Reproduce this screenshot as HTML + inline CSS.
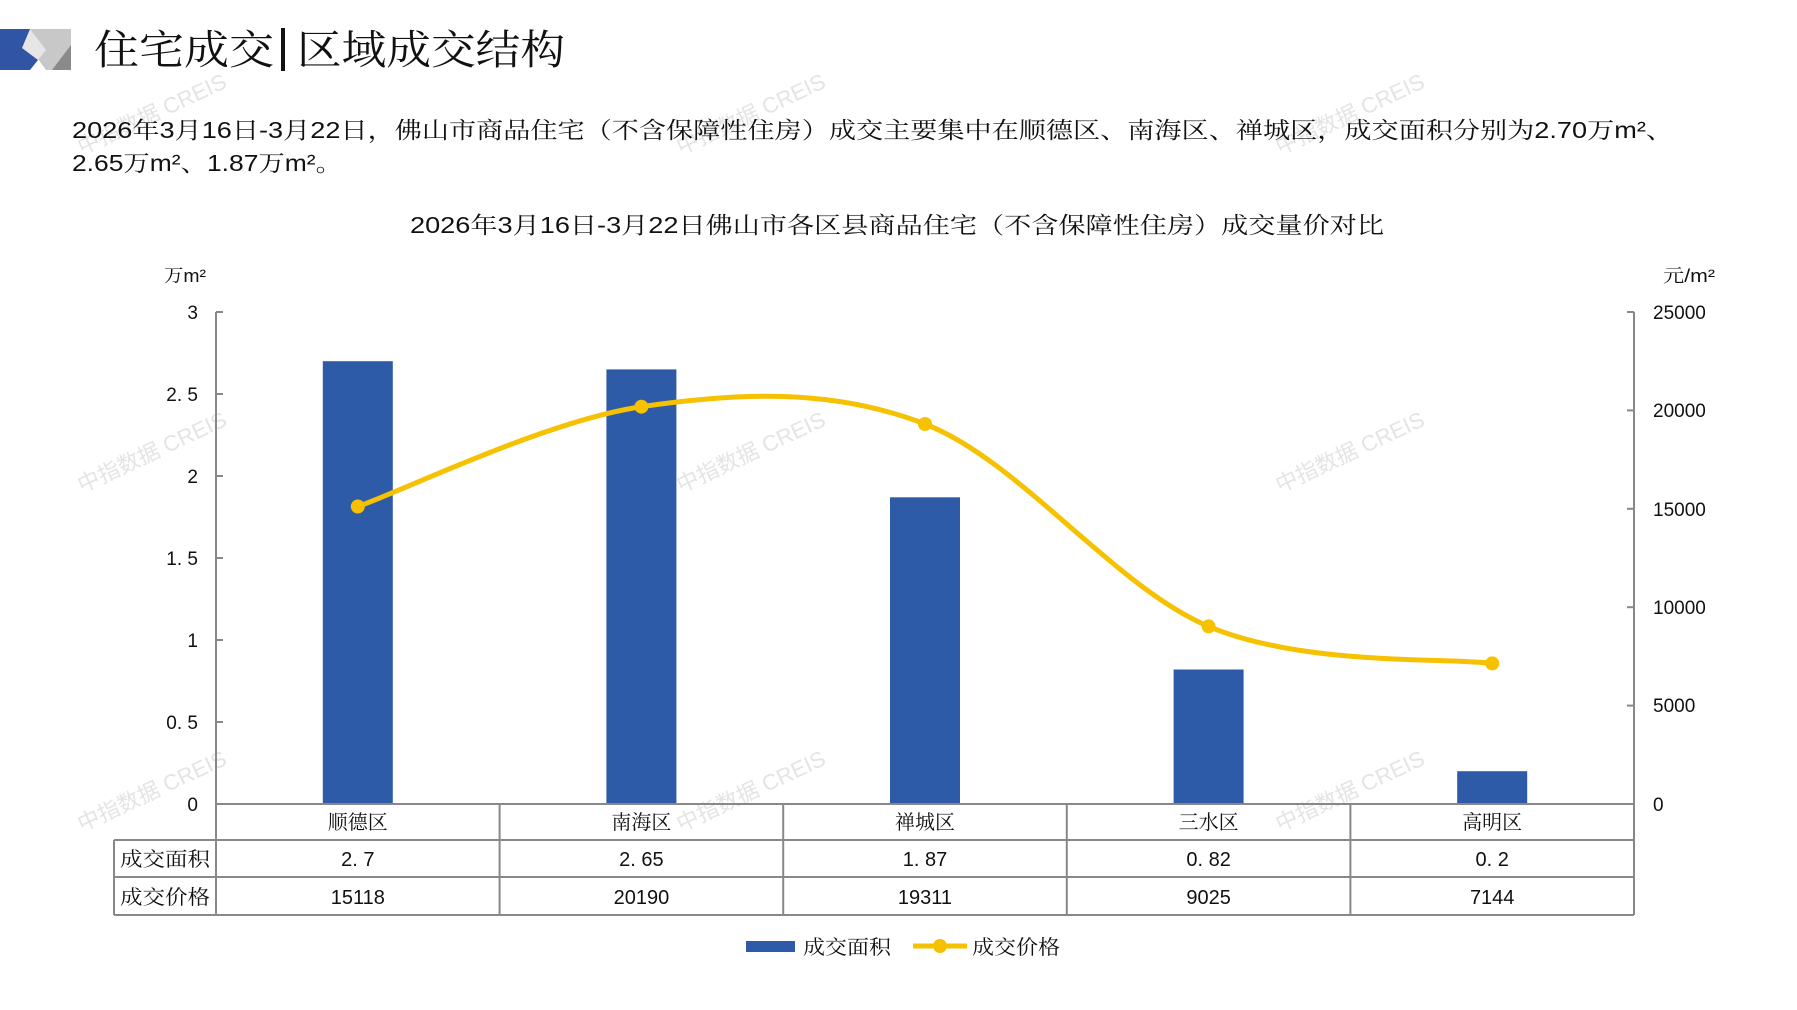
<!DOCTYPE html>
<html><head><meta charset="utf-8"><style>
html,body{margin:0;padding:0;background:#fff;}
svg{display:block;}
text{font-family:"Liberation Sans","Noto Serif CJK SC",serif;fill:#111;}
text.wm{fill:#e4e4e4;font-size:22px;font-family:"Liberation Sans","Noto Sans CJK SC",sans-serif;}
</style></head><body>
<svg width="1797" height="1010" viewBox="0 0 1797 1010" xmlns="http://www.w3.org/2000/svg">
<!-- watermarks -->
<g>
<text class="wm" transform="translate(82,155) rotate(-25)">中指数据 CREIS</text>
<text class="wm" transform="translate(681,155) rotate(-25)">中指数据 CREIS</text>
<text class="wm" transform="translate(1280,155) rotate(-25)">中指数据 CREIS</text>
<text class="wm" transform="translate(82,493) rotate(-25)">中指数据 CREIS</text>
<text class="wm" transform="translate(681,493) rotate(-25)">中指数据 CREIS</text>
<text class="wm" transform="translate(1280,493) rotate(-25)">中指数据 CREIS</text>
<text class="wm" transform="translate(82,832) rotate(-25)">中指数据 CREIS</text>
<text class="wm" transform="translate(681,832) rotate(-25)">中指数据 CREIS</text>
<text class="wm" transform="translate(1280,832) rotate(-25)">中指数据 CREIS</text>
</g>
<!-- logo -->
<polygon points="0,29 30,29 46,50 30,70 0,70" fill="#2f55a4"/>
<polygon points="30,29 71,29 71,50 62,70 46,70 30,48" fill="#c8c8c8"/>
<polygon points="71,45 71,70 52,70" fill="#8a8a8a"/>
<polygon points="30,29 46,50 38,60 22,48" fill="#e6e6e6"/>
<text x="94" y="64" font-size="41" textLength="180" lengthAdjust="spacingAndGlyphs">住宅成交</text>
<rect x="281" y="28" width="4" height="43" fill="#111"/>
<text x="297" y="64" font-size="41" textLength="268" lengthAdjust="spacingAndGlyphs">区域成交结构</text>
<!-- paragraph -->
<text x="72" y="138" font-size="23" fill="#222" textLength="1601" lengthAdjust="spacingAndGlyphs">2026年3月16日-3月22日，佛山市商品住宅（不含保障性住房）成交主要集中在顺德区、南海区、禅城区，成交面积分别为2.70万m²、</text>
<text x="72" y="171" font-size="23" fill="#222" textLength="270" lengthAdjust="spacingAndGlyphs">2.65万m²、1.87万m²。</text>
<!-- chart title -->
<text x="410" y="233" font-size="23" fill="#222" textLength="974" lengthAdjust="spacingAndGlyphs">2026年3月16日-3月22日佛山市各区县商品住宅（不含保障性住房）成交量价对比</text>
<text x="164" y="282" font-size="18" fill="#222" textLength="42" lengthAdjust="spacingAndGlyphs">万m²</text>
<text x="1663" y="282" font-size="18" fill="#222" textLength="52" lengthAdjust="spacingAndGlyphs">元/m²</text>
<!-- axes -->
<g stroke="#888" stroke-width="2" fill="none">
<line x1="216" y1="312" x2="216" y2="804"/>
<line x1="1634" y1="312" x2="1634" y2="804"/>
<line x1="216" y1="312" x2="223" y2="312"/><line x1="216" y1="394" x2="223" y2="394"/>
<line x1="216" y1="476" x2="223" y2="476"/><line x1="216" y1="558" x2="223" y2="558"/>
<line x1="216" y1="640" x2="223" y2="640"/><line x1="216" y1="722" x2="223" y2="722"/>
<line x1="1627" y1="312" x2="1634" y2="312"/><line x1="1627" y1="410.4" x2="1634" y2="410.4"/>
<line x1="1627" y1="508.8" x2="1634" y2="508.8"/><line x1="1627" y1="607.2" x2="1634" y2="607.2"/>
<line x1="1627" y1="705.6" x2="1634" y2="705.6"/>
</g>
<g font-size="19" text-anchor="end">
<text x="198" y="319">3</text><text x="198" y="401">2. 5</text><text x="198" y="483">2</text>
<text x="198" y="565">1. 5</text><text x="198" y="647">1</text><text x="198" y="729">0. 5</text><text x="198" y="811">0</text>
</g>
<g font-size="19">
<text x="1653" y="319">25000</text><text x="1653" y="417">20000</text><text x="1653" y="516">15000</text>
<text x="1653" y="614">10000</text><text x="1653" y="712">5000</text><text x="1653" y="811">0</text>
</g>
<!-- bars -->
<g fill="#2e5ba7">
<rect x="322.8" y="361.2" width="70" height="442.8"/>
<rect x="606.4" y="369.4" width="70" height="434.6"/>
<rect x="890" y="497.3" width="70" height="306.7"/>
<rect x="1173.6" y="669.5" width="70" height="134.5"/>
<rect x="1457.2" y="771.2" width="70" height="32.8"/>
</g>
<!-- line -->
<path d="M357.8,506.5 C405,490 547,420.5 641.4,406.7 C736,393 830.5,387.4 925,424 C1019.5,460.6 1114,586.5 1208.6,626.4 C1303,666.3 1445,657.2 1492.2,663.4" stroke="#f5c100" stroke-width="5" fill="none"/>
<g fill="#f5c100">
<circle cx="357.8" cy="506.5" r="7"/><circle cx="641.4" cy="406.7" r="7"/><circle cx="925" cy="424" r="7"/>
<circle cx="1208.6" cy="626.4" r="7"/><circle cx="1492.2" cy="663.4" r="7"/>
</g>
<!-- table -->
<g stroke="#888" stroke-width="2" fill="none">
<line x1="216" y1="804" x2="1634" y2="804"/>
<line x1="114" y1="840" x2="1634" y2="840"/>
<line x1="114" y1="877" x2="1634" y2="877"/>
<line x1="114" y1="915" x2="1634" y2="915"/>
<line x1="114" y1="840" x2="114" y2="915"/>
<line x1="216" y1="804" x2="216" y2="915"/>
<line x1="499.6" y1="804" x2="499.6" y2="915"/>
<line x1="783.2" y1="804" x2="783.2" y2="915"/>
<line x1="1066.8" y1="804" x2="1066.8" y2="915"/>
<line x1="1350.4" y1="804" x2="1350.4" y2="915"/>
<line x1="1634" y1="804" x2="1634" y2="915"/>
</g>
<g font-size="20" text-anchor="middle">
<text x="357.8" y="829">顺德区</text><text x="641.4" y="829">南海区</text><text x="925" y="829">禅城区</text>
<text x="1208.6" y="829">三水区</text><text x="1492.2" y="829">高明区</text>
<text x="357.8" y="866">2. 7</text><text x="641.4" y="866">2. 65</text><text x="925" y="866">1. 87</text>
<text x="1208.6" y="866">0. 82</text><text x="1492.2" y="866">0. 2</text>
<text x="357.8" y="904">15118</text><text x="641.4" y="904">20190</text><text x="925" y="904">19311</text>
<text x="1208.6" y="904">9025</text><text x="1492.2" y="904">7144</text>
</g>
<g font-size="20">
<text x="120" y="866" textLength="90" lengthAdjust="spacingAndGlyphs">成交面积</text>
<text x="120" y="904" textLength="90" lengthAdjust="spacingAndGlyphs">成交价格</text>
</g>
<!-- legend -->
<rect x="746" y="941" width="49" height="11" fill="#2e5ba7"/>
<text x="803" y="954" font-size="20" textLength="88" lengthAdjust="spacingAndGlyphs">成交面积</text>
<line x1="913" y1="946" x2="967" y2="946" stroke="#f5c100" stroke-width="5"/>
<circle cx="940" cy="946" r="7" fill="#f5c100"/>
<text x="972" y="954" font-size="20" textLength="88" lengthAdjust="spacingAndGlyphs">成交价格</text>
</svg>
</body></html>
